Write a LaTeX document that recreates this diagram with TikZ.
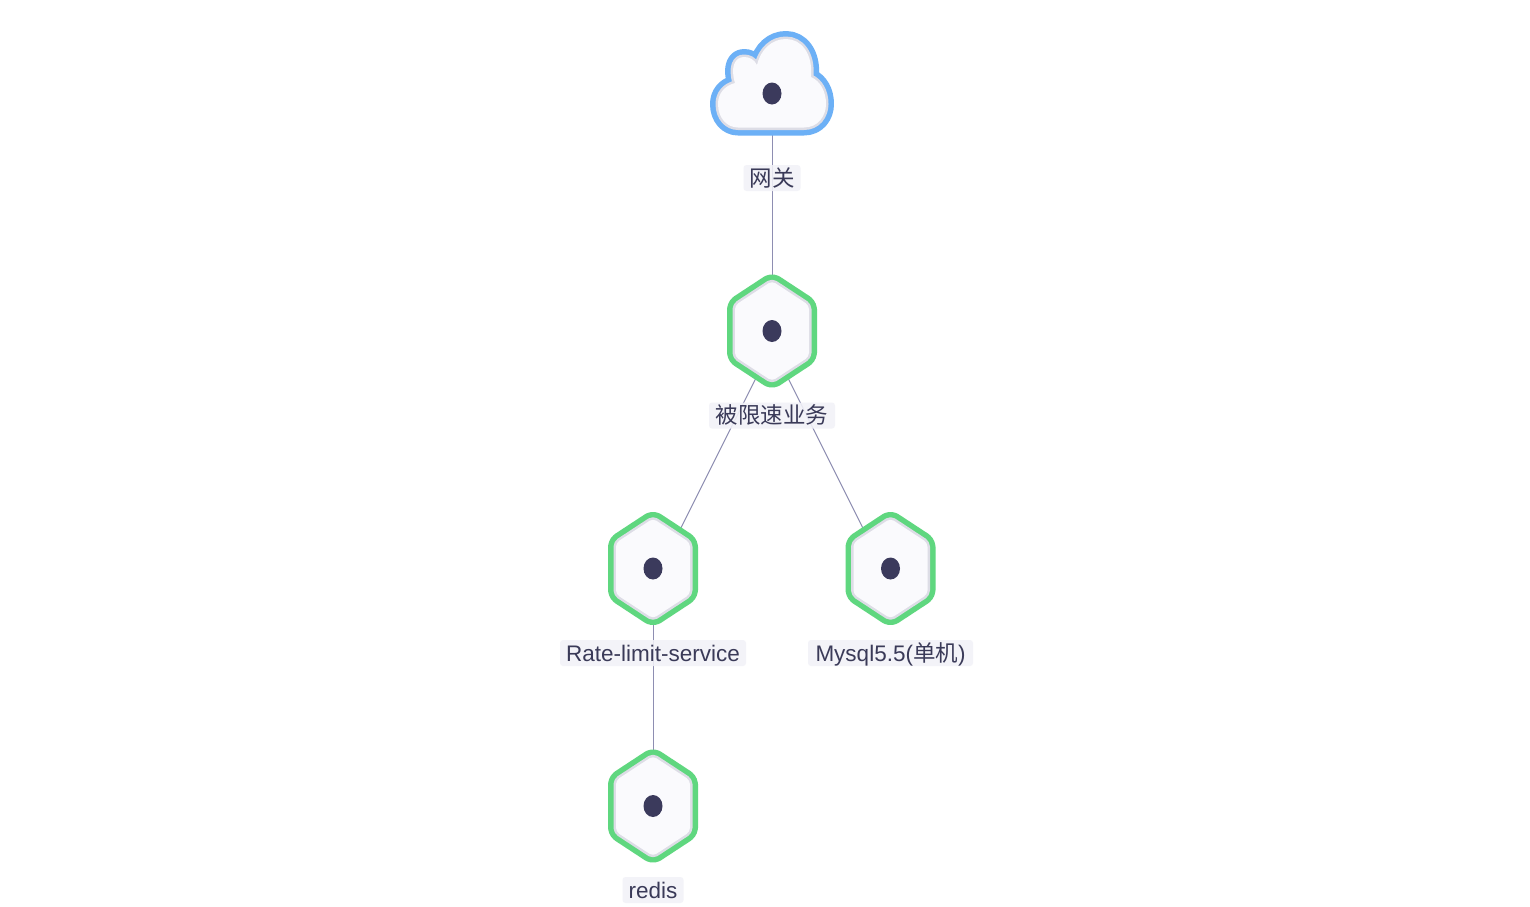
\documentclass[tikz,border=0pt]{standalone}
\usepackage{fontspec}
\setmainfont{Liberation Sans}
\newfontfamily\cjk{Noto Sans CJK SC}
\definecolor{edgecol}{HTML}{8E8EB2}
\definecolor{hexgreen}{HTML}{5FD77F}
\definecolor{cloudblue}{HTML}{6CB0F6}
\definecolor{innergrey}{HTML}{DDDDE6}
\definecolor{bodyfill}{HTML}{FAFAFD}
\definecolor{dotcol}{HTML}{3B3A5C}
\definecolor{labelbg}{HTML}{F2F2F8}
\definecolor{textcol}{HTML}{3A3A58}
\newcommand{\hexpath}{(0,-50) -- (37,-25.7) -- (37,25.7) -- (0,50) -- (-37,25.7) -- (-37,-25.7) -- cycle}
\newcommand{\cloudpath}{(738,127.5) -- (804,127.5)
  .. controls (818,127.5) and (826,116) .. (826,104)
  .. controls (826,91) and (820,81) .. (811,77)
  .. controls (813,53) and (801,39) .. (786,39)
  .. controls (772,39) and (761,49) .. (757,65)
  .. controls (754,59) and (749,57) .. (744,57)
  .. controls (735,57) and (730,67) .. (735,83)
  .. controls (724,86) and (718,94) .. (718,104)
  .. controls (718,118) and (727,127.5) .. (738,127.5) -- cycle}
\newcommand{\hexicon}[2]{\begin{scope}[shift={(#1,#2)}]
  \draw[hexgreen,line width=16pt,line join=round,rounded corners=4pt] \hexpath;
  \draw[innergrey,line width=5pt,line join=round,rounded corners=4pt] \hexpath;
  \fill[bodyfill,rounded corners=4pt] \hexpath;
  \fill[dotcol] (0,0) ellipse [x radius=9.5,y radius=11];
\end{scope}}
\tikzset{
  x=1pt,y=-1pt,
  hub/.style={inner sep=0pt,minimum size=1pt},
  link/.style={draw=edgecol,line width=1pt},
  tag/.style={fill=labelbg,fill opacity=0.88,text opacity=1,text=textcol,rounded corners=3pt,
    inner sep=0pt,minimum height=26pt,text height=19pt,text depth=3pt,
    font=\fontsize{22.5pt}{26pt}\selectfont}
}
\begin{document}
\begin{tikzpicture}
\useasboundingbox (0,0) rectangle (1530,906);
\fill[white] (0,0) rectangle (1530,906);
\node[hub] (gw) at (772,108) {};
\node[hub] (biz) at (772,346) {};
\node[hub] (rate) at (653,583.5) {};
\node[hub] (mysql) at (890.5,583.5) {};
\node[hub] (redis) at (653,821) {};
\draw[link] (gw.center) -- (biz.center);
\draw[link] (biz.center) -- (rate.center);
\draw[link] (biz.center) -- (mysql.center);
\draw[link] (rate.center) -- (redis.center);
\draw[cloudblue,line width=16pt,line join=round] \cloudpath;
\draw[innergrey,line width=5pt,line join=round] \cloudpath;
\fill[bodyfill] \cloudpath;
\fill[dotcol] (772,93.5) ellipse [x radius=9.5,y radius=11];
\hexicon{772}{331}
\hexicon{653}{568.5}
\hexicon{890.5}{568.5}
\hexicon{653}{806}
\node[tag,minimum width=57pt] (lgw) at (772,178) {\cjk 网关};
\node[tag,minimum width=126pt] (lbiz) at (772,415.5) {\cjk 被限速业务};
\node[tag,minimum width=186pt] (lrate) at (653,653) {Rate-limit-service};
\node[tag,minimum width=165pt] (lmysql) at (890.5,653) {Mysql5.5({\cjk 单机})};
\node[tag,minimum width=61pt] (lredis) at (653,890) {redis};
\end{tikzpicture}
\end{document}
